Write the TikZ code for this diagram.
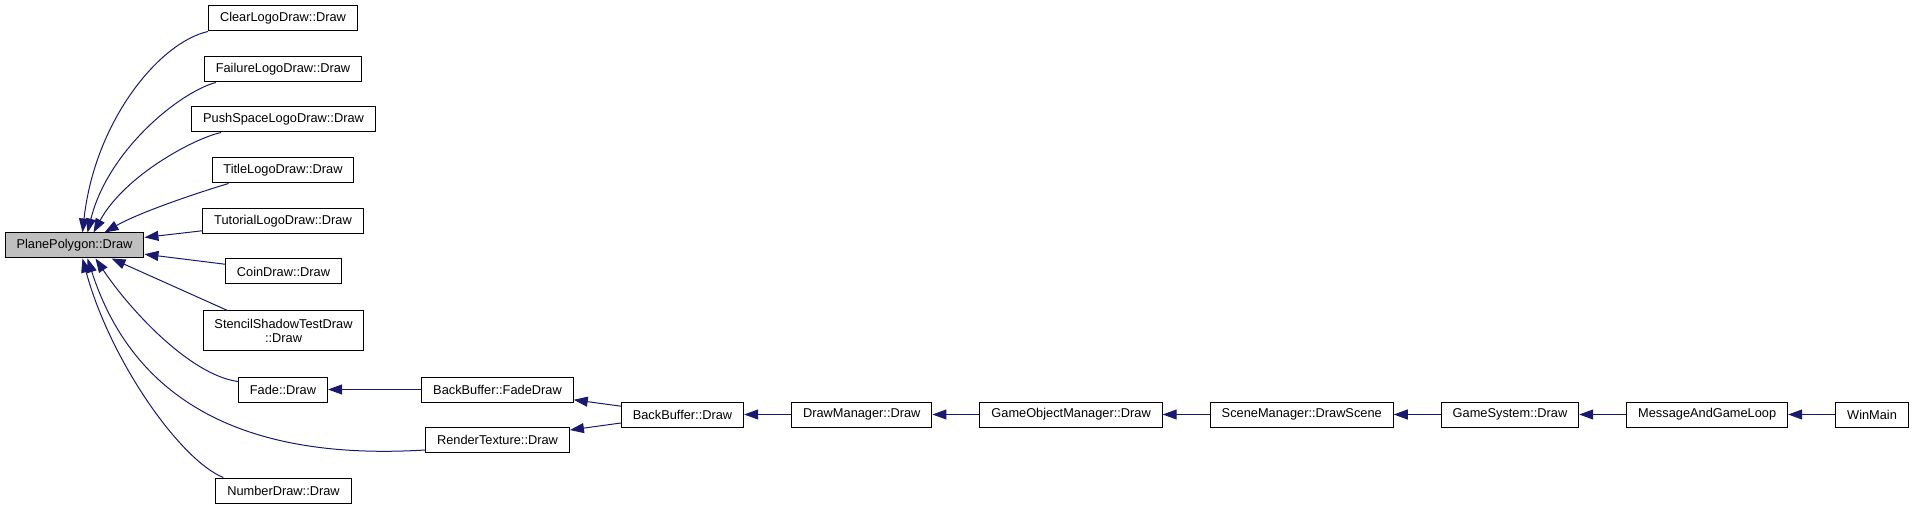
\documentclass[tikz,border=0pt]{standalone}
\usepackage{fontspec}
\setmainfont{Liberation Sans}
\usetikzlibrary{positioning, arrows.meta, calc}
\definecolor{EdgeBlue}{RGB}{25, 25, 112}
\definecolor{FocusGray}{RGB}{191, 191, 191}

\begin{document}
\begin{tikzpicture}[x=0.75pt, y=-0.75pt,
      func/.style={rectangle, draw=black, fill=white, line width=0.75pt, align=center,
      font=\fontsize{9.6pt}{10.5pt}\selectfont, inner xsep=8.6pt, inner ysep=0pt, minimum height=18.75pt},
      focus/.style={func, fill=FocusGray},
      call/.style={draw=EdgeBlue, line width=0.75pt, -{Triangle[length=10.5pt, width=7.5pt]}}
    ]
      \useasboundingbox (0,0) rectangle (1915,509);

      \node[focus] (plane) at (74.5,245.5) {PlanePolygon::Draw};
      \node[func] (clear) at (283,18.5) {ClearLogoDraw::Draw};
      \node[func] (failure) at (283,69.5) {FailureLogoDraw::Draw};
      \node[func] (pushspace) at (283.5,119.5) {PushSpaceLogoDraw::Draw};
      \node[func] (title) at (283,170.5) {TitleLogoDraw::Draw};
      \node[func] (tutorial) at (283,221.5) {TutorialLogoDraw::Draw};
      \node[func] (coin) at (283.5,271.5) {CoinDraw::Draw};
      \node[func, minimum height=29.25pt] (stencil) at (283.5,330.5) {StencilShadowTestDraw\\::Draw};
      \node[func] (fade) at (283,389.5) {Fade::Draw};
      \node[func] (number) at (283.5,490.5) {NumberDraw::Draw};
      \node[func] (fadedraw) at (497.5,389.5) {BackBuffer::FadeDraw};
      \node[func] (render) at (497.5,440) {RenderTexture::Draw};
      \node[func] (bbdraw) at (682.5,414.5) {BackBuffer::Draw};
      \node[func, right=35.25pt of bbdraw] (drawmgr) {DrawManager::Draw};
      \node[func, right=35.25pt of drawmgr] (objmgr) {GameObjectManager::Draw};
      \node[func, right=35.25pt of objmgr] (scene) {SceneManager::DrawScene};
      \node[func, right=35.25pt of scene] (gamesys) {GameSystem::Draw};
      \node[func, right=35.25pt of gamesys] (loop) {MessageAndGameLoop};
      \node[func, right=35.25pt of loop] (winmain) {WinMain};

      % callers of PlanePolygon::Draw
      \draw[call] (clear.south west) .. controls (160,42) and (95,120) .. ($(plane.north)+(8,0)$);
      \draw[call] ($(failure.south west)+(12,0)$) .. controls (180,92) and (108,150) .. ($(plane.north)+(13,0)$);
      \draw[call] ($(pushspace.south west)+(30,0)$) .. controls (195,138) and (125,175) .. ($(plane.north)+(19,0)$);
      \draw[call] ($(title.south west)+(17,0)$) .. controls (200,192) and (140,212) .. ($(plane.north)+(30,0)$);
      \draw[call] (tutorial) -- (plane);
      \draw[call] (coin) -- (plane);
      \draw[call] ($(stencil.north west)+(25,0)$) -- ($(plane.south)+(37,0)$);
      \draw[call] ($(fade.north west)+(0,5)$) .. controls (190,375) and (130,310) .. ($(plane.south)+(21,0)$);
      \draw[call] ($(render.south west)+(0,-3)$) .. controls (230,462) and (130,390) .. ($(plane.south)+(13,0)$);
      \draw[call] ($(number.north west)+(8,0)$) .. controls (180,460) and (110,360) .. ($(plane.south)+(8,0)$);

      % chain up to WinMain
      \draw[call] (fadedraw) -- (fade);
      \draw[call] (bbdraw) -- (fadedraw);
      \draw[call] (bbdraw) -- (render);
      \draw[call] (drawmgr) -- (bbdraw);
      \draw[call] (objmgr) -- (drawmgr);
      \draw[call] (scene) -- (objmgr);
      \draw[call] (gamesys) -- (scene);
      \draw[call] (loop) -- (gamesys);
      \draw[call] (winmain) -- (loop);
    \end{tikzpicture}
\end{document}
